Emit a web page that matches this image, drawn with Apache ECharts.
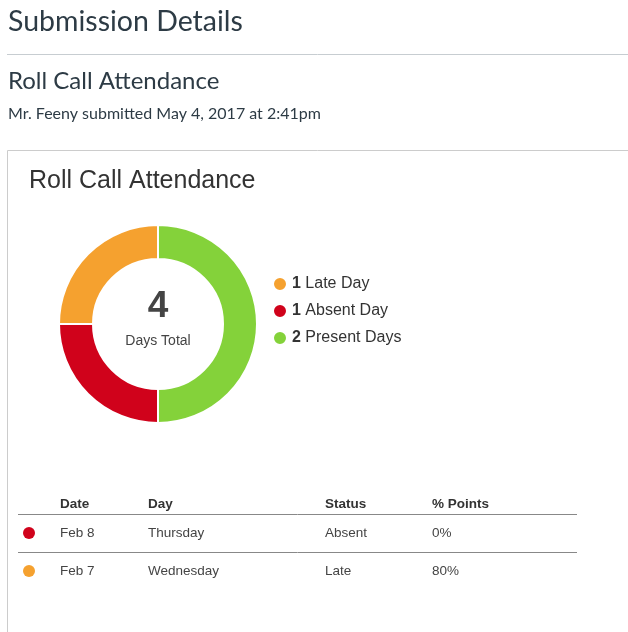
<!DOCTYPE html>
<html><head><meta charset="utf-8">
<script src="https://cdn.jsdelivr.net/npm/echarts@6/dist/echarts.min.js"></script>
<style>html,body{margin:0;padding:0;background:#fff}#c{width:628px;height:632px}</style>
</head><body><div id="c"></div>
<script>
// ---- data ----
const pageTitle = 'Submission Details';
const assignmentTitle = 'Roll Call Attendance';
const submittedText = 'Mr. Feeny submitted May 4, 2017 at 2:41pm';
const chartTitle = 'Roll Call Attendance';
const categories = ['Late Day', 'Absent Day', 'Present Days'];
const counts = [1, 1, 2];
const colors = ['#F5A12F', '#D0021B', '#84D23A'];
const pieOrder = [2, 1, 0]; // drawn clockwise from top: Present, Absent, Late
const totalLabel = 'Days Total';
const tableHeaders = ['Date', 'Day', 'Status', '% Points'];
const rowDates = ['Feb 8', 'Feb 7'];
const rowDays = ['Thursday', 'Wednesday'];
const rowStatus = ['Absent', 'Late'];
const rowPoints = ['0%', '80%'];
const rowColorIdx = [1, 0];

// ---- layout ----
const chart = echarts.init(document.getElementById('c'));
const total = counts.reduce((a, b) => a + b, 0);
const colX = [60, 148, 325, 432];
const graphics = [];
const lato = 'Lato, "Open Sans", sans-serif';
const arial = '"Liberation Sans", Arial, sans-serif';

graphics.push({type:'text', x:8, y:22, style:{text:pageTitle, font:'28.5px ' + lato, fill:'#2d3b45', verticalAlign:'middle'}});
graphics.push({type:'line', shape:{x1:7, y1:54.5, x2:628, y2:54.5}, style:{stroke:'#c7cdd1', lineWidth:1}});
graphics.push({type:'text', x:8, y:81, style:{text:assignmentTitle, font:'24px ' + lato, fill:'#2d3b45', verticalAlign:'middle'}});
graphics.push({type:'text', x:8, y:114, style:{text:submittedText, font:'16px ' + lato, fill:'#2d3b45', verticalAlign:'middle'}});
// box
graphics.push({type:'line', shape:{x1:7.5, y1:150.5, x2:628, y2:150.5}, style:{stroke:'#cccccc', lineWidth:1}});
graphics.push({type:'line', shape:{x1:7.5, y1:150.5, x2:7.5, y2:632}, style:{stroke:'#cccccc', lineWidth:1}});
graphics.push({type:'text', x:29, y:181, style:{text:chartTitle, font:'25px ' + arial, fill:'#333333', verticalAlign:'middle'}});
// center text
graphics.push({type:'text', x:158, y:307, style:{text:String(total), font:'bold 37px ' + arial, fill:'#444444', align:'center', verticalAlign:'middle'}});
graphics.push({type:'text', x:158, y:341, style:{text:totalLabel, font:'14px ' + arial, fill:'#444444', align:'center', verticalAlign:'middle'}});
// table
tableHeaders.forEach((h, i) => graphics.push({type:'text', x:colX[i], y:504, style:{text:h, font:'bold 13.5px ' + arial, fill:'#333333', verticalAlign:'middle'}}));
graphics.push({type:'line', shape:{x1:18, y1:514.5, x2:577, y2:514.5}, style:{stroke:'#888888', lineWidth:1}});
rowDates.forEach((d, r) => {
  const y = 533 + r * 38;
  graphics.push({type:'circle', shape:{cx:29, cy:y, r:6}, style:{fill:colors[rowColorIdx[r]]}});
  [d, rowDays[r], rowStatus[r], rowPoints[r]].forEach((t, i) => graphics.push({type:'text', x:colX[i], y:y, style:{text:t, font:'13.5px ' + arial, fill:'#444444', verticalAlign:'middle'}}));
  if (r < rowDates.length - 1) graphics.push({type:'line', shape:{x1:18, y1:y + 19.5, x2:577, y2:y + 19.5}, style:{stroke:'#888888', lineWidth:1}});
});

chart.setOption({
  animation: false,
  legend: {
    orient: 'vertical', left: 272, top: 276, padding: 0,
    icon: 'circle', itemWidth: 14, itemHeight: 14, itemGap: 11,
    data: categories,
    formatter: name => '{b|' + counts[categories.indexOf(name)] + '} ' + name,
    textStyle: {fontFamily: arial, fontSize: 16, color: '#333333', lineHeight: 16,
      rich: {b: {fontWeight: 'bold', fontSize: 16, lineHeight: 16, fontFamily: arial, color: '#333333'}}},
    selectedMode: false
  },
  series: [{
    type: 'pie', center: [158, 324], radius: [65, 99], startAngle: 90, clockwise: true,
    label: {show: false}, labelLine: {show: false}, emphasis: {disabled: true},
    itemStyle: {borderColor: '#ffffff', borderWidth: 2},
    data: pieOrder.map(i => ({name: categories[i], value: counts[i], itemStyle: {color: colors[i]}}))
  }],
  graphic: graphics
});
</script></body></html>
